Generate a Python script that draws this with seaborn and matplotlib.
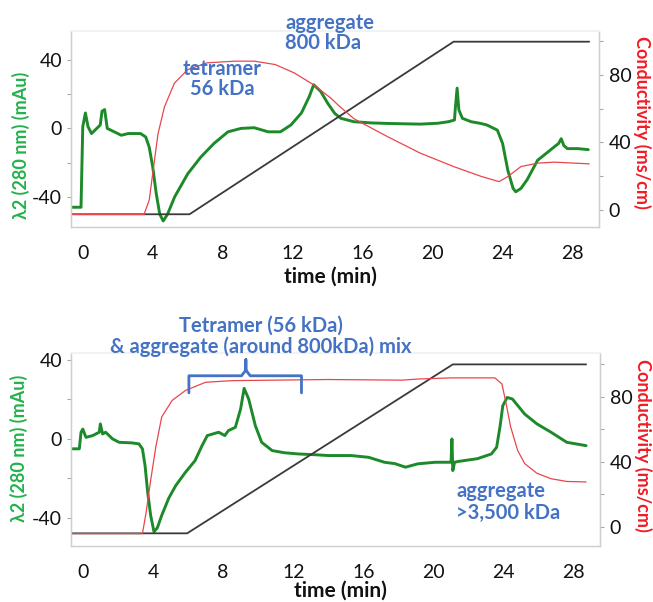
import numpy as np
import pandas as pd
import matplotlib
matplotlib.use("Agg")
import matplotlib.pyplot as plt
import seaborn as sns

# ---------------------------------------------------------
# data (time in min)
# ---------------------------------------------------------
# top run
top_green_t = [-0.6, -0.1, 0.0, 0.15, 0.3, 0.5, 0.8, 1.0, 1.1, 1.25, 1.4, 1.8, 2.2, 2.6, 3.0, 3.3, 3.6,
               3.8, 4.0, 4.2, 4.4, 4.6, 4.85, 5.25, 6.0, 6.75, 7.5, 8.3, 9.05, 9.8, 10.6, 11.3, 11.9,
               12.5, 12.95, 13.2, 13.6, 14.0, 14.4, 14.75, 15.5, 16.5, 17.4, 18.3, 19.3, 20.3, 20.9,
               21.25, 21.3, 21.4, 21.5, 21.7, 22.2, 22.7, 23.1, 23.7, 24.0, 24.3, 24.6, 24.75, 25.05,
               25.4, 26.0, 26.6, 26.95, 27.2, 27.35, 27.5, 27.7, 28.3, 28.9]
top_green_v = [-46, -46, 1, 9, 1, -3, 0, 2, 10, 11, 0, -2, -4, -3, -3, -3, -5,
               -11, -22.5, -38, -50, -54, -50, -40, -26.5, -16.7, -8.8, -2, 0, 0.4, -2, -2, 2,
               9, 18.6, 25.5, 21.6, 14.7, 8.8, 5.9, 3.9, 3.2, 2.9, 2.7, 2.5, 3, 3.9,
               4.9, 12, 23.5, 10.8, 5.9, 3.9, 3, 2, -1, -8.8, -24.5, -35, -37, -35,
               -30, -18.6, -13.7, -10.8, -8.8, -6, -10, -11.8, -11.8, -12.4]
top_red_t = [-0.6, 3.5, 3.8, 4.0, 4.3, 4.67, 5.24, 6.0, 7.1, 8.7, 9.8, 11.0, 12.1, 13.2, 14.2, 14.6,
             15.5, 17.4, 19.3, 21.2, 22.8, 23.8, 24.3, 25.05, 26.0, 26.95, 28.95]
top_red_v = [-2.6, -2.6, 5.9, 21.7, 45, 61, 75, 83, 87, 88, 88, 86, 81, 74, 66, 62,
             54, 43.5, 33.6, 25.7, 19.8, 16.8, 19.8, 25.7, 27.7, 28.3, 27.3]
top_grad_t = [-0.6, 6.1, 21.2, 28.95]
top_grad_v = [-2.5, -2.5, 99.5, 99.5]

# bottom run
bot_green_t = [-0.7, -0.2, -0.1, 0.0, 0.18, 0.56, 0.94, 1.0, 1.13, 1.3, 1.7, 2.07, 2.8, 3.2, 3.4, 3.55,
               3.7, 3.87, 4.06, 4.25, 4.5, 4.9, 5.3, 5.86, 6.4, 6.8, 7.1, 7.75, 8.1, 8.3, 8.7, 9.0,
               9.2, 9.46, 9.84, 10.2, 10.8, 11.5, 12.3, 13.25, 14.0, 15.3, 16.3, 17.2, 17.8, 18.4,
               19.1, 20.1, 21.0, 21.05, 21.1, 21.2, 21.4, 22.5, 23.3, 23.6, 23.8, 23.95, 24.2, 24.5,
               25.2, 25.9, 26.7, 27.6, 28.7]
bot_green_v = [-5, -5, 3.4, 5, 0.8, 1.7, 3.4, 7.6, 2.5, 3.4, 0, -1.7, -2, -2.5, -5, -13.5,
               -27, -38.7, -47, -45, -38.7, -30, -23.6, -16.8, -11, -3.4, 1.7, 3.4, 1.7, 4.2, 5.9, 15.2,
               25.6, 20.2, 6.7, -1.7, -5.9, -7, -7.6, -8, -8.4, -8.4, -9.3, -11.8, -12.5, -14.3,
               -12.6, -11.8, -11.8, 0, -16, -11.8, -11.4, -10, -7.6, -4.2, 6.7, 16.8, 21, 20.2,
               12.6, 7.6, 3.4, -1.7, -3.4]
bot_red_t = [-0.7, 3.4, 3.6, 3.87, 4.16, 4.5, 5.1, 5.86, 7.0, 8.5, 14.0, 18.2, 19.1, 21.0, 23.5, 23.9,
             24.1, 24.4, 24.8, 25.2, 25.9, 26.7, 27.6, 28.7]
bot_red_v = [-4.1, -4.1, 8.2, 28.7, 49, 67.7, 77.9, 84, 89, 90, 90.7, 90.3, 91, 91.7, 91.7, 88,
             78, 61.5, 47, 39, 33, 29.7, 28, 27.7]
bot_grad_t = [-0.7, 5.95, 21.1, 28.7]
bot_grad_v = [-3.9, -3.9, 100, 100]

# brace over the mixed peak (bottom run, conductivity units)
brace_t = [6.05, 6.05, 9.05, 9.3, 9.3, 9.3, 9.55, 12.47, 12.47]
brace_v = [82.5, 93, 93, 96.5, 103, 96.5, 93, 93, 82.5]

x_ticks = [0, 4, 8, 12, 16, 20, 24, 28]
left_ticks = [-40, 0, 40]
right_ticks = [0, 40, 80]

GREEN_LINE = "#1d8a2a"
GREEN_TXT = "#22b24c"
RED_LINE = "#e8464c"
RED_TXT = "#f01c24"
BLUE = "#4472c4"
SPINE = "#cfcfcf"

sns.set_theme(style="white")
plt.rcParams["font.family"] = ["Lato", "DejaVu Sans"]
plt.rcParams["axes.unicode_minus"] = False

fig = plt.figure(figsize=(6.53, 6.02), dpi=100)


def style_axes(ax, axr, ylim_l, ylim_r):
    ax.set_xlim(-0.7, 29.5)
    ax.set_ylim(*ylim_l)
    axr.set_ylim(*ylim_r)
    ax.set_xticks(x_ticks)
    ax.set_xticks(np.arange(0, 30, 1), minor=True)
    ax.set_yticks(left_ticks)
    ax.set_yticks([-20, 20], minor=True)
    axr.set_yticks(right_ticks)
    axr.set_yticks([20, 60, 100], minor=True)
    for a in (ax, axr):
        for side in ("left", "right", "bottom"):
            a.spines[side].set_color(SPINE)
            a.spines[side].set_linewidth(0.9)
        a.spines["top"].set_color("#f2f2f2")
        a.set_xlabel("")
        a.set_ylabel("")
    ax.tick_params(axis="x", which="both", direction="inout", length=6, width=0.8,
                   color="#a8a8a8", labelsize=14, pad=10, labelcolor="#111111")
    ax.tick_params(axis="y", which="both", direction="out", length=3, width=0.8,
                   color="#a8a8a8", labelsize=14, pad=3, labelcolor="#111111", left=True)
    axr.tick_params(axis="y", which="both", direction="out", length=3, width=0.8,
                    color="#a8a8a8", labelsize=14, pad=4, labelcolor="#111111", right=True)


def draw_run(rect, g_t, g_v, r_t, r_v, k_t, k_v, ylim_l, ylim_r):
    ax = fig.add_axes(rect)
    axr = ax.twinx()
    sns.lineplot(x=g_t, y=g_v, ax=ax, color=GREEN_LINE, linewidth=2.1,
                 estimator=None, sort=False)
    sns.lineplot(x=k_t, y=k_v, ax=axr, color="#3a3a3a", linewidth=1.3,
                 estimator=None, sort=False)
    sns.lineplot(x=r_t, y=r_v, ax=axr, color=RED_LINE, linewidth=0.9,
                 estimator=None, sort=False)
    style_axes(ax, axr, ylim_l, ylim_r)
    return ax, axr


ax1, ax1r = draw_run([0.108, 0.623, 0.809, 0.326], top_green_t, top_green_v,
                     top_red_t, top_red_v, top_grad_t, top_grad_v,
                     (-57.5, 57), (-10, 106))
ax2, ax2r = draw_run([0.108, 0.093, 0.811, 0.3206], bot_green_t, bot_green_v,
                     bot_red_t, bot_red_v, bot_grad_t, bot_grad_v,
                     (-54.2, 43.5), (-11.7, 107))

ax2r.plot(brace_t, brace_v, color=BLUE, linewidth=2, clip_on=False,
          solid_joinstyle="round", solid_capstyle="round")


def ftxt(x, y, s, **kw):
    fig.text(x / 653, 1 - y / 602, s, **kw)


# axis titles
ftxt(21, 145, "λ2 (280 nm) (mAu)", rotation=90, color=GREEN_TXT, fontsize=13,
     fontweight="bold", ha="center", va="center")
ftxt(19, 448, "λ2 (280 nm) (mAu)", rotation=90, color=GREEN_TXT, fontsize=13,
     fontweight="bold", ha="center", va="center")
ftxt(642, 122, "Conductivity (ms/cm)", rotation=270, color=RED_TXT, fontsize=13,
     fontweight="bold", ha="center", va="center")
ftxt(643, 445, "Conductivity (ms/cm)", rotation=270, color=RED_TXT, fontsize=13,
     fontweight="bold", ha="center", va="center")
ftxt(330, 277, "time (min)", color="#111111", fontsize=15, fontweight="bold",
     ha="center", va="center")
ftxt(340, 591, "time (min)", color="#111111", fontsize=15, fontweight="bold",
     ha="center", va="center")

# peak annotations
ftxt(285, 33, "aggregate\n800 kDa", color=BLUE, fontsize=14.5, fontweight="bold",
     ha="left", va="center", linespacing=1.0)
ftxt(222, 79, "tetramer\n56 kDa", color=BLUE, fontsize=14.5, fontweight="bold",
     ha="center", va="center", linespacing=1.0)
ftxt(261, 336, "Tetramer (56 kDa)\n& aggregate (around 800kDa) mix", color=BLUE,
     fontsize=14.5, fontweight="bold", ha="center", va="center", linespacing=1.05)
ftxt(456, 502, "aggregate\n>3,500 kDa", color=BLUE, fontsize=14.5, fontweight="bold",
     ha="left", va="center", linespacing=1.1)

fig.savefig("out.png", dpi=100)
